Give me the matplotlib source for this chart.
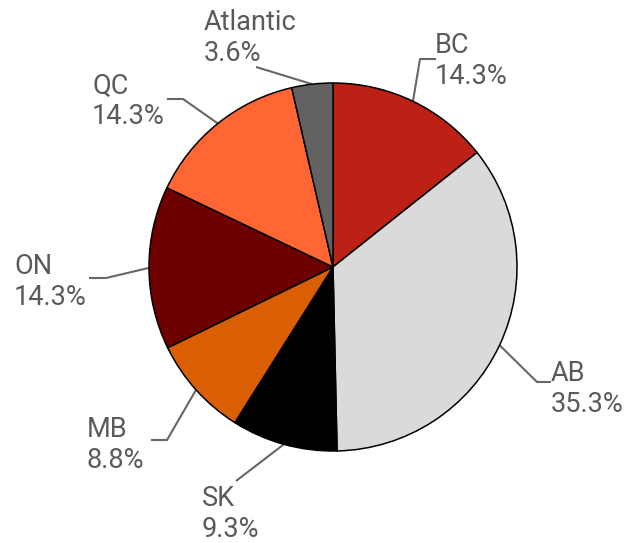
import numpy as np
import matplotlib
matplotlib.use("Agg")
import matplotlib.pyplot as plt

# Share of total by region
regions = ["BC", "AB", "SK", "MB", "ON", "QC", "Atlantic"]
shares = [14.3, 35.3, 9.3, 8.8, 14.3, 14.3, 3.6]
colors = ["#bd2015", "#dadada", "#000000", "#da5f02", "#6e0000", "#ff6634", "#626262"]

W, H = 636, 543
CX, CY, R = 333, 267, 184  # pie centre and radius in pixels


def px(x, y):
    """Pixel position (from top-left) to data coordinates of the pie axes."""
    return (x - CX) / R, (CY - y) / R


fig = plt.figure(figsize=(W / 100, H / 100), dpi=100)
ax = fig.add_axes([0, 0, 1, 1])

wedges, _ = ax.pie(
    shares, colors=colors, startangle=90, counterclock=False, radius=1.0,
    wedgeprops=dict(edgecolor="black", linewidth=1.1),
)
ax.set_xlim(-CX / R, (W - CX) / R)
ax.set_ylim(-(H - CY) / R, CY / R)
ax.set_aspect("equal")
ax.axis("off")

# Leader-line routing: elbow point, end of horizontal run (None = straight), text anchor
layout = {
    "BC":       dict(elbow=(420, 59),  end=(436, 59),  text=(435, 61)),
    "AB":       dict(elbow=(537, 382), end=(551, 382), text=(551, 389)),
    "SK":       dict(elbow=(236, 481), end=None,       text=(202, 514)),
    "MB":       dict(elbow=(167, 440), end=(151, 440), text=(87, 445)),
    "ON":       dict(elbow=(106, 278), end=(89, 278),  text=(14, 282)),
    "QC":       dict(elbow=(183, 99),  end=(167, 99),  text=(92, 101)),
    "Atlantic": dict(elbow=(256, 67),  end=None,       text=(204, 38)),
}

line_color = "#666666"
text_color = "#5a5a5a"

for w, name, val in zip(wedges, regions, shares):
    mid = np.deg2rad((w.theta1 + w.theta2) / 2)
    start = (np.cos(mid), np.sin(mid))
    spec = layout[name]
    pts = [start, px(*spec["elbow"])]
    if spec["end"] is not None:
        pts.append(px(*spec["end"]))
    xs, ys = zip(*pts)
    ax.plot(xs, ys, color=line_color, linewidth=1.5, solid_capstyle="butt", zorder=0)
    tx, ty = px(*spec["text"])
    ax.text(tx, ty, f"{name}\n{val:.1f}%", ha="left", va="center",
            fontsize=19.5, family="Roboto", color=text_color, linespacing=1.15)

fig.savefig("out.png", dpi=100)
